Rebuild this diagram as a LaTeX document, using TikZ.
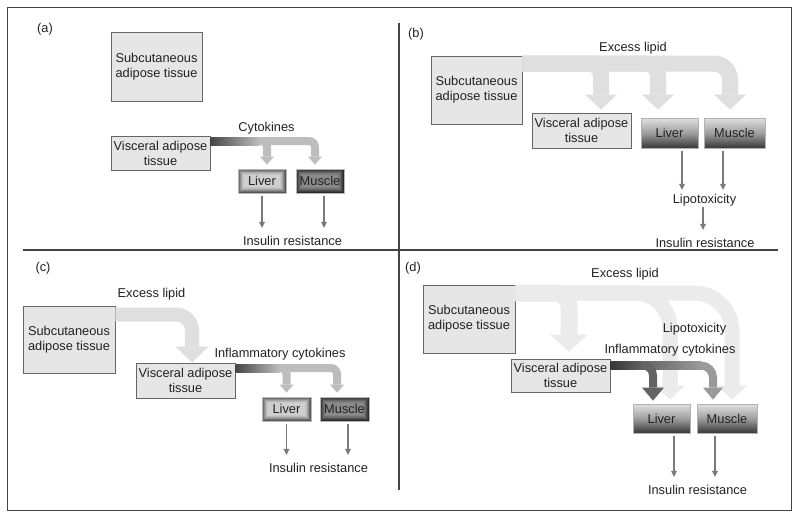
\documentclass[tikz,border=0pt]{standalone}
\usepackage{fontspec}
\setmainfont{Liberation Sans}
\usepackage{tikz}
\usetikzlibrary{arrows.meta,positioning,calc}
\definecolor{gray900}{HTML}{222222}
\definecolor{gray700}{HTML}{444444}
\definecolor{gray600}{HTML}{666666}
\definecolor{gray500}{HTML}{7A7A7A}
\definecolor{gray200}{HTML}{E6E6E6}
\definecolor{lipid}{HTML}{DFDFDF}
\definecolor{lipidpale}{HTML}{EBEBEB}
\definecolor{cytolight}{HTML}{BDBDBD}
\definecolor{cytodark}{HTML}{464646}
\definecolor{cytodeep}{HTML}{353535}
\definecolor{cytomid}{HTML}{646464}
\definecolor{cytosoft}{HTML}{9A9A9A}

\begin{document}
\begin{tikzpicture}[x=1pt,y=-1pt]
  % Styles
  \tikzset{
    every node/.style={font=\fontsize{12.8pt}{15pt}\selectfont, text=gray900},
    tissue/.style={draw=gray600, fill=gray200, line width=0.9pt, align=center, inner sep=0pt},
    glow/.style={draw=gray!55, line width=0.8pt, inner sep=0pt,
      path picture={
        \foreach \k/\t in {#1}
          \fill[black!\t] ($(path picture bounding box.south west)+(\k,-\k)$) rectangle ($(path picture bounding box.north east)+(-\k,\k)$);
      }},
    organ/.style={draw=gray!60, line width=0.8pt, inner sep=0pt, top color=black!12, bottom color=black!78, middle color=black!38},
    note/.style={inner sep=1pt, text height=9.4pt, text depth=2.6pt},
    tag/.style={note},
    bigarrow/.style={draw=lipid, line width=16pt, rounded corners=12pt, -{Triangle[width=32pt,length=15pt,line width=0pt]}},
    cytoarrow/.style={draw=cytolight, line width=8pt, rounded corners=6pt, -{Triangle[width=14pt,length=8pt,line width=0pt]}},
    thinarrow/.style={draw=gray500, line width=1.3pt, shorten <=3pt, shorten >=7pt, -{Triangle[width=6pt,length=6pt,line width=0pt]}},
    liverglow/.style={glow={0/66,1/56,2/45,3/35,4/27,5/22,6/19}},
    muscleglow/.style={glow={0/84,1/76,2/68,3/60,4/54,5/49,6/46}},
  }

  \fill[white] (0,0) rectangle (800,519);
  \useasboundingbox (0,0) rectangle (800,519);

  % Frame and dividers
  \draw[gray700, line width=1pt] (7.5,7.5) rectangle (791.5,510.5);
  \draw[gray700, line width=1.2pt] (399,23) -- (399,490);
  \draw[gray700, line width=1.2pt] (23,250) -- (778,250);

  % Panel (a)
  \node[tag] (taga) at (45,29) {(a)};
  \node[tissue, minimum width=91pt, minimum height=69pt] (suba) at (156.5,66.5) {Subcutaneous\\adipose tissue};
  \node[tissue, minimum width=99pt, minimum height=34pt] (visca) at (160.5,153) {Visceral adipose\\tissue};
  \node[liverglow, minimum width=48pt, minimum height=24pt] (livera) at (262,181) {Liver};
  \node[muscleglow, minimum width=48pt, minimum height=24pt] (musclea) at (320,181) {Muscle};
  \node[note] (cytoa) at (266.5,128) {Cytokines};
  \node[note] (ira) at (292.5,242) {Insulin resistance};

  \draw[cytoarrow] ($(visca.north east)+(0,5.5)$) -| ($(musclea.north)+(-5,-4)$);
  \draw[cytoarrow] ($(visca.north east)+(0,5.5)$) -| ($(livera.north)+(5,-4)$);
  \shade[left color=cytodark, right color=cytolight] ($(visca.north east)+(0,1.5)$) rectangle ($(visca.north east)+(49,9.5)$);
  \draw[thinarrow] (livera.south) -- (livera.south |- ira.north);
  \draw[thinarrow] ($(musclea.south)+(4,0)$) -- ($(musclea.south |- ira.north)+(4,0)$);

  % Panel (b)
  \node[tag] (tagb) at (416,34) {(b)};
  \node[tissue, minimum width=91pt, minimum height=68pt] (subb) at (476.5,90) {Subcutaneous\\adipose tissue};
  \node[tissue, minimum width=99pt, minimum height=35pt] (viscb) at (581.5,130.5) {Visceral adipose\\tissue};
  \node[organ, minimum width=57pt, minimum height=30pt] (liverb) at (669.5,133) {Liver};
  \node[organ, minimum width=61pt, minimum height=30pt] (muscleb) at (734.5,133) {Muscle};

  \draw[bigarrow, rounded corners=16pt] ($(subb.north east)+(0,8)$) -| ($(muscleb.north)+(-4.5,-8)$);
  \draw[bigarrow] ($(subb.north east)+(0,8)$) -| ($(liverb.north)+(-11.5,-8)$);
  \draw[bigarrow] ($(subb.north east)+(0,8)$) -| ($(viscb.north)+(19.5,-3)$);

  \node[note] (lipidb) at (633,48) {Excess lipid};
  \node[note] (lipotoxb) at (704.5,200) {Lipotoxicity};
  \node[note] (irb) at (705,244) {Insulin resistance};
  \draw[thinarrow, shorten >=3pt] ($(liverb.south)+(12.5,0)$) -- ($(liverb.south |- lipotoxb.north)+(12.5,0)$);
  \draw[thinarrow, shorten >=3pt] ($(muscleb.south)+(-11.5,0)$) -- ($(muscleb.south |- lipotoxb.north)+(-11.5,0)$);
  \draw[thinarrow, shorten <=0pt] ($(lipotoxb.south)+(-1.5,0)$) -- ($(lipotoxb.south |- irb.north)+(-1.5,0)$);

  % Panel (c)
  \node[tag] (tagc) at (43,268) {(c)};
  \node[tissue, minimum width=92pt, minimum height=67pt] (subc) at (69,339.5) {Subcutaneous\\adipose tissue};
  \node[tissue, minimum width=99pt, minimum height=35pt] (viscc) at (185.5,380.5) {Visceral adipose\\tissue};
  \node[liverglow, minimum width=49pt, minimum height=24pt] (liverc) at (286.5,409) {Liver};
  \node[muscleglow, minimum width=49pt, minimum height=24pt] (musclec) at (344.5,409) {Muscle};

  \draw[bigarrow, line width=14pt, rounded corners=16pt, -{Triangle[width=33pt,length=16pt,line width=0pt]}] ($(subc.north east)+(0,9)$) -| ($(viscc.north)+(6.5,0)$);
  \draw[cytoarrow] ($(viscc.north east)+(0,5.5)$) -| ($(musclec.north)+(-7.5,-4)$);
  \draw[cytoarrow] ($(viscc.north east)+(0,5.5)$) -| ($(liverc.north)+(0,-4)$);
  \shade[left color=cytodark, right color=cytolight] ($(viscc.north east)+(0,1.5)$) rectangle ($(viscc.north east)+(44,9.5)$);

  \node[note] (lipidc) at (151.5,294) {Excess lipid};
  \node[note] (cytoc) at (280,354) {Inflammatory cytokines};
  \node[note] (irc) at (318.5,469) {Insulin resistance};
  \draw[thinarrow] (liverc.south) -- (liverc.south |- irc.north);
  \draw[thinarrow] ($(musclec.south)+(3.5,0)$) -- ($(musclec.south |- irc.north)+(3.5,0)$);

  % Panel (d)
  \node[tag] (tagd) at (413,268) {(d)};
  \node[tissue, minimum width=92pt, minimum height=68pt] (subd) at (469,319) {Subcutaneous\\adipose tissue};
  \node[tissue, minimum width=99pt, minimum height=33pt] (viscd) at (560.5,375.5) {Visceral adipose\\tissue};
  \node[organ, minimum width=57pt, minimum height=29pt] (liverd) at (661.5,418.5) {Liver};
  \node[organ, minimum width=60pt, minimum height=29pt] (muscled) at (727,418.5) {Muscle};

  \draw[bigarrow, draw=lipidpale, line width=15pt, rounded corners=38pt, -{Triangle[width=30pt,length=14pt,line width=0pt]}] ($(subd.north east)+(0,8.5)$) -| ($(muscled.north)+(5,-4)$);
  \draw[bigarrow, draw=lipidpale, line width=15pt, rounded corners=35pt, -{Triangle[width=30pt,length=14pt,line width=0pt]}] ($(subd.north east)+(0,8.5)$) -| ($(liverd.north)+(8.5,-4)$);
  \draw[bigarrow, draw=lipidpale, line width=17pt, rounded corners=14pt, -{Triangle[width=38pt,length=17pt,line width=0pt]}] ($(subd.north east)+(0,8.5)$) -| ($(viscd.north)+(8.5,-7)$);

  \draw[cytoarrow, draw=cytosoft, rounded corners=12pt, -{Triangle[width=20pt,length=12pt,line width=0pt]}] ($(viscd.north east)+(0,7)$) -| ($(muscled.north)+(-14,-4)$);
  \shade[left color=cytomid, right color=cytosoft] ($(viscd.north east)+(33,3)$) rectangle ($(viscd.north east)+(91,11)$);
  \draw[cytoarrow, draw=cytomid, rounded corners=10pt, -{Triangle[width=22pt,length=13pt,line width=0pt]}] ($(viscd.north east)+(0,7)$) -| ($(liverd.north)+(-8.5,-3)$);
  \shade[left color=cytodeep, right color=cytomid] ($(viscd.north east)+(0,3)$) rectangle ($(viscd.north east)+(33,11)$);

  \node[note] (lipidd) at (625,274) {Excess lipid};
  \node[note] (lipotoxd) at (694.5,329) {Lipotoxicity};
  \node[note] (cytod) at (670,350) {Inflammatory cytokines};
  \node[note] (ird) at (697.5,491) {Insulin resistance};
  \draw[thinarrow] ($(liverd.south)+(12.5,0)$) -- ($(liverd.south |- ird.north)+(12.5,0)$);
  \draw[thinarrow] ($(muscled.south)+(-12,0)$) -- ($(muscled.south |- ird.north)+(-12,0)$);
\end{tikzpicture}
\end{document}
